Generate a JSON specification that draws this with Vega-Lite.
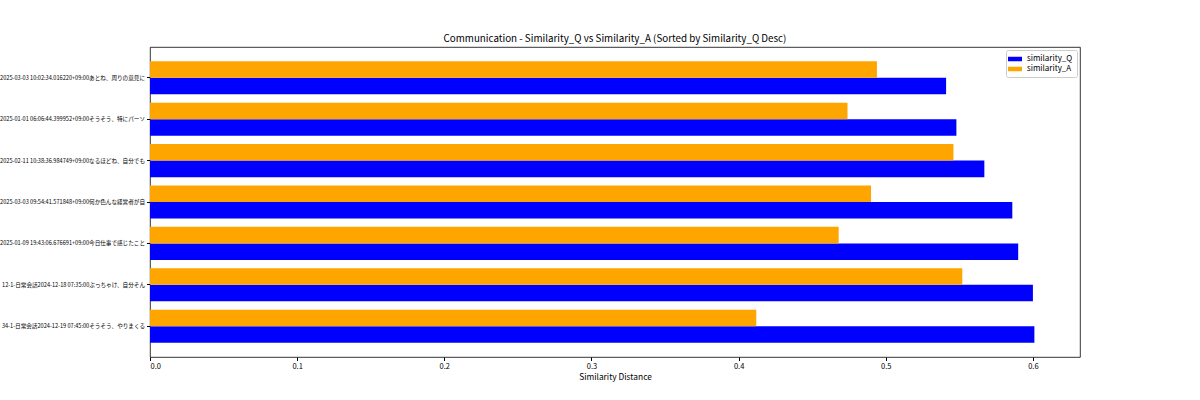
{
  "$schema": "https://vega.github.io/schema/vega-lite/v6.json",
  "autosize": {"type": "none"},
  "width": 930,
  "height": 310,
  "padding": {"left": 150, "top": 47, "right": 120, "bottom": 43},
  "background": "white",
  "title": {
    "text": "Communication - Similarity_Q vs Similarity_A (Sorted by Similarity_Q Desc)",
    "font": "Noto Sans CJK JP",
    "fontSize": 9.8,
    "fontWeight": "normal",
    "color": "black",
    "anchor": "middle",
    "offset": 3
  },
  "data": {
    "values": [
      {"label": "7-1-日常会話2025-03-03 10:02:34.016220+09:00あとね、周りの意見に", "series": "similarity_Q", "value": 0.541},
      {"label": "7-1-日常会話2025-03-03 10:02:34.016220+09:00あとね、周りの意見に", "series": "similarity_A", "value": 0.494},
      {"label": "2-1-日常会話2025-01-01 06:06:44.399952+09:00そうそう、特にパーソ", "series": "similarity_Q", "value": 0.548},
      {"label": "2-1-日常会話2025-01-01 06:06:44.399952+09:00そうそう、特にパーソ", "series": "similarity_A", "value": 0.474},
      {"label": "5-1-日常会話2025-02-11 10:38:36.984749+09:00なるほどね、自分でも", "series": "similarity_Q", "value": 0.567},
      {"label": "5-1-日常会話2025-02-11 10:38:36.984749+09:00なるほどね、自分でも", "series": "similarity_A", "value": 0.546},
      {"label": "6-1-日常会話2025-03-03 09:54:41.571848+09:00何か色んな経営者が自", "series": "similarity_Q", "value": 0.586},
      {"label": "6-1-日常会話2025-03-03 09:54:41.571848+09:00何か色んな経営者が自", "series": "similarity_A", "value": 0.490},
      {"label": "3-1-日常会話2025-01-09 19:43:06.676691+09:00今日仕事で感じたこと", "series": "similarity_Q", "value": 0.590},
      {"label": "3-1-日常会話2025-01-09 19:43:06.676691+09:00今日仕事で感じたこと", "series": "similarity_A", "value": 0.468},
      {"label": "12-1-日常会話2024-12-18 07:35:00ぶっちゃけ、自分そん", "series": "similarity_Q", "value": 0.600},
      {"label": "12-1-日常会話2024-12-18 07:35:00ぶっちゃけ、自分そん", "series": "similarity_A", "value": 0.552},
      {"label": "34-1-日常会話2024-12-19 07:45:00そうそう、やりまくる", "series": "similarity_Q", "value": 0.601},
      {"label": "34-1-日常会話2024-12-19 07:45:00そうそう、やりまくる", "series": "similarity_A", "value": 0.412}
    ]
  },
  "mark": {"type": "bar", "cornerRadius": 0},
  "encoding": {
    "y": {
      "field": "label",
      "type": "nominal",
      "sort": null,
      "scale": {"paddingInner": 0.2, "paddingOuter": 0.344},
      "axis": {
        "title": null,
        "labelFont": "Noto Sans CJK JP",
        "labelFontSize": 5.6,
        "labelColor": "black",
        "labelLimit": 500,
        "tickColor": "black",
        "tickSize": 3.5,
        "labelPadding": 2,
        "domain": false
      }
    },
    "yOffset": {
      "field": "series",
      "type": "nominal",
      "sort": ["similarity_A", "similarity_Q"],
      "scale": {"paddingInner": 0, "paddingOuter": 0}
    },
    "x": {
      "field": "value",
      "type": "quantitative",
      "title": "Similarity Distance",
      "scale": {"domain": [0, 0.632], "nice": false, "zero": true},
      "axis": {
        "values": [0, 0.1, 0.2, 0.3, 0.4, 0.5, 0.6],
        "format": ".1f",
        "grid": false,
        "domain": false,
        "labelFont": "Noto Sans CJK JP",
        "labelFontSize": 7.5,
        "labelColor": "black",
        "labelPadding": 2,
        "tickColor": "black",
        "tickSize": 3.5,
        "titleFont": "Noto Sans CJK JP",
        "titleFontSize": 8.4,
        "titleFontWeight": "normal",
        "titleColor": "black",
        "titlePadding": 2
      }
    },
    "color": {
      "field": "series",
      "type": "nominal",
      "scale": {"domain": ["similarity_Q", "similarity_A"], "range": ["#0000ff", "#ffa500"]},
      "legend": {
        "title": null,
        "orient": "top-right",
        "offset": 3,
        "fillColor": "white",
        "strokeColor": "#cccccc",
        "cornerRadius": 2,
        "padding": 4,
        "rowPadding": 1,
        "symbolType": "M-1.4,-0.45L1.4,-0.45L1.4,0.45L-1.4,0.45Z",
        "symbolSize": 100,
        "symbolStrokeWidth": 0,
        "labelFont": "Noto Sans CJK JP",
        "labelFontSize": 8,
        "labelColor": "black",
        "labelOffset": 7
      }
    }
  },
  "config": {
    "view": {"stroke": "black", "strokeWidth": 0.8}
  }
}
